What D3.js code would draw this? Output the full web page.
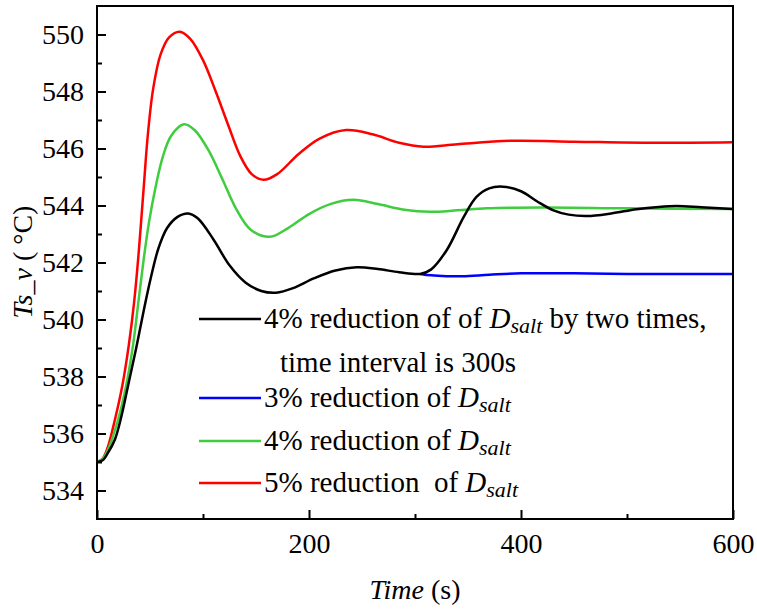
<!DOCTYPE html>
<html>
<head>
<meta charset="utf-8">
<script src="https://cdn.jsdelivr.net/npm/d3@7"></script>
<style>
  body { margin: 0; background: #fff; }
  svg { display: block; }
</style>
</head>
<body>
<svg id="chart"></svg>
<script>
// series: time (s) and Ts_v (°C)
const redTime   = [0, 5, 10, 17, 24, 30, 35, 39, 44, 48, 53, 60, 68, 78, 88, 100, 112, 124, 135, 146, 157, 170, 190, 210, 235, 260, 285, 308, 340, 390, 450, 520, 600];
const redValue  = [535.0, 535.1, 535.5, 536.5, 537.7, 539.1, 540.6, 542.2, 544.6, 546.5, 548.1, 549.3, 549.9, 550.1, 549.85, 549.1, 548.0, 546.8, 545.75, 545.1, 544.9, 545.1, 545.8, 546.35, 546.65, 546.5, 546.2, 546.06, 546.15, 546.27, 546.24, 546.2, 546.22];

const greenTime  = [0, 5, 10, 20, 27, 34, 39, 44, 49, 55, 62, 70, 82, 92, 105, 118, 131, 145, 163, 180, 200, 220, 242, 265, 290, 314, 340, 368, 420, 500, 600];
const greenValue = [535.0, 535.1, 535.4, 536.5, 537.6, 539.1, 540.6, 542.1, 543.4, 544.6, 545.7, 546.45, 546.85, 546.65, 545.95, 544.95, 543.9, 543.15, 542.9, 543.2, 543.7, 544.05, 544.2, 544.05, 543.85, 543.78, 543.83, 543.9, 543.93, 543.9, 543.88];

const blueTime  = [305, 315, 330, 345, 370, 400, 450, 500, 600];
const blueValue = [541.6, 541.55, 541.52, 541.52, 541.57, 541.62, 541.62, 541.6, 541.6];

const blackTime  = [0, 5, 10, 17, 23, 30, 37, 44, 51, 58, 66, 76, 86, 95, 110, 125, 140, 155, 169, 185, 205, 225, 245, 265, 285, 305, 315, 330, 346, 358, 370, 383, 400, 415, 430, 445, 462, 485, 509, 530, 547, 570, 600];
const blackValue = [535.0, 535.05, 535.3, 535.8, 536.6, 537.8, 539.0, 540.3, 541.5, 542.5, 543.2, 543.6, 543.72, 543.55, 542.8, 541.9, 541.3, 541.0, 540.94, 541.1, 541.45, 541.72, 541.83, 541.77, 541.66, 541.6, 541.75, 542.44, 543.6, 544.3, 544.6, 544.66, 544.5, 544.15, 543.84, 543.68, 543.63, 543.72, 543.87, 543.95, 543.98, 543.94, 543.88];

const xMajorTicks = [0, 200, 400, 600];
const xMinorTicks = [100, 300, 500];
const yMajorTicks = [534, 536, 538, 540, 542, 544, 546, 548, 550];
const yMinorTicks = [535, 537, 539, 541, 543, 545, 547, 549];

const legendLabels = [
    {color: '#000000', pre: '4% reduction of of ', post: ' by two times,', second: 'time interval is 300s'},
    {color: '#0000ff', pre: '3% reduction of ', post: ''},
    {color: '#3fcc3f', pre: '4% reduction of ', post: ''},
    {color: '#ff0000', pre: '5% reduction  of ', post: ''}
];

const FONT = 'Liberation Serif, Times New Roman, serif';

const config = {
    width: 757,
    height: 612,
    margin: {top: 6, right: 24, bottom: 93, left: 97}
};

const innerWidth = config.width - config.margin.left - config.margin.right;
const innerHeight = config.height - config.margin.top - config.margin.bottom;

const svg = d3.select('#chart')
    .attr('width', config.width)
    .attr('height', config.height);

const chart = svg.append('g')
    .attr('transform', `translate(${config.margin.left},${config.margin.top})`);

const xScale = d3.scaleLinear().domain([0, 600]).range([0, innerWidth]);
const yScale = d3.scaleLinear().domain([533, 551]).range([innerHeight, 0]);

// axes, ticks point inward
const xAxis = d3.axisBottom(xScale).tickValues(xMajorTicks).tickSizeInner(-9).tickSizeOuter(0).tickPadding(14).tickFormat(d3.format('d'));
const xMinor = d3.axisBottom(xScale).tickValues(xMinorTicks).tickSizeInner(-5).tickSizeOuter(0);
const yAxis = d3.axisLeft(yScale).tickValues(yMajorTicks).tickSizeInner(-9).tickSizeOuter(0).tickPadding(13).tickFormat(d3.format('d'));
const yMinor = d3.axisLeft(yScale).tickValues(yMinorTicks).tickSizeInner(-5).tickSizeOuter(0);

chart.append('g').attr('transform', `translate(0,${innerHeight})`).call(xAxis)
    .call(g => g.select('.domain').remove());
chart.append('g').attr('transform', `translate(0,${innerHeight})`).call(xMinor)
    .call(g => g.select('.domain').remove())
    .call(g => g.selectAll('text').remove());
chart.append('g').call(yAxis)
    .call(g => g.select('.domain').remove());
chart.append('g').call(yMinor)
    .call(g => g.select('.domain').remove())
    .call(g => g.selectAll('text').remove());

chart.selectAll('.tick line').attr('stroke', '#000').attr('stroke-width', 2);
chart.selectAll('g').attr('font-family', FONT).attr('font-size', 28);
chart.selectAll('.tick text').attr('fill', '#000');

// curves
const line = d3.line()
    .x(d => xScale(d[0]))
    .y(d => yScale(d[1]))
    .curve(d3.curveCatmullRom.alpha(0.5));

const series = [
    {color: '#ff0000', time: redTime, value: redValue},
    {color: '#3fcc3f', time: greenTime, value: greenValue},
    {color: '#0000ff', time: blueTime, value: blueValue},
    {color: '#000000', time: blackTime, value: blackValue}
];

chart.selectAll('.series')
    .data(series)
    .join('path')
    .attr('class', 'series')
    .attr('fill', 'none')
    .attr('stroke', d => d.color)
    .attr('stroke-width', 2.5)
    .attr('d', d => line(d.time.map((t, i) => [t, d.value[i]])));

// frame
chart.append('rect')
    .attr('width', innerWidth)
    .attr('height', innerHeight)
    .attr('fill', 'none')
    .attr('stroke', '#000')
    .attr('stroke-width', 2);

// legend
const legendRows = [319, 398, 441, 483];
const legend = svg.append('g')
    .attr('font-family', FONT)
    .attr('font-size', 29);

legendLabels.forEach((l, i) => {
    const y = legendRows[i];
    legend.append('line')
        .attr('x1', 199).attr('x2', 261)
        .attr('y1', y).attr('y2', y)
        .attr('stroke', l.color)
        .attr('stroke-width', 2.5);
    const txt = legend.append('text')
        .attr('x', 264)
        .attr('y', y + 9)
        .attr('xml:space', 'preserve')
        .style('white-space', 'pre');
    txt.append('tspan').text(l.pre);
    txt.append('tspan').attr('font-style', 'italic').text('D');
    txt.append('tspan').attr('font-style', 'italic').attr('font-size', 22).attr('dy', 5).text('salt');
    if (l.post) txt.append('tspan').attr('dy', -5).text(l.post);
    if (l.second) {
        legend.append('text')
            .attr('x', 280)
            .attr('y', 372)
            .text(l.second);
    }
});

// axis titles
const xTitle = svg.append('text')
    .attr('x', 415)
    .attr('y', 599)
    .attr('text-anchor', 'middle')
    .attr('font-family', FONT)
    .attr('font-size', 28);
xTitle.append('tspan').attr('font-style', 'italic').text('Time');
xTitle.append('tspan').text(' (s)');

const yTitle = svg.append('text')
    .attr('transform', 'translate(32,262) rotate(-90)')
    .attr('text-anchor', 'middle')
    .attr('font-family', FONT)
    .attr('font-size', 28);
yTitle.append('tspan').attr('font-style', 'italic').text('Ts_v');
yTitle.append('tspan').text(' ( °C)');
</script>
</body>
</html>
